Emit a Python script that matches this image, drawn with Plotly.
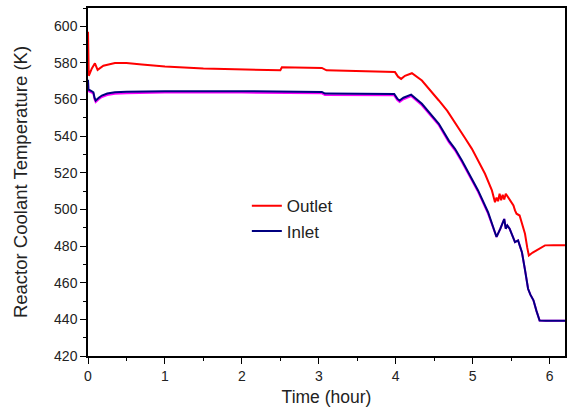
import plotly.graph_objects as go

# ---- data ----
outlet_t = [0.0, 0.01, 0.05, 0.09, 0.125, 0.2, 0.35, 0.5, 0.7, 1.0, 1.5, 2.0, 2.5, 2.52,
            3.04, 3.1, 3.5, 3.99, 4.03, 4.07, 4.12, 4.21, 4.34, 4.45, 4.56, 4.67, 4.77,
            4.9, 4.99, 5.07, 5.16, 5.25, 5.29, 5.31, 5.33, 5.35, 5.37, 5.39, 5.41, 5.43,
            5.46, 5.48, 5.53, 5.55, 5.57, 5.61, 5.64, 5.68, 5.71, 5.73, 5.78, 5.85, 5.94,
            6.05, 6.2]
outlet_v = [597.0, 573.0, 577.0, 579.8, 576.2, 578.5, 580.0, 580.0, 579.1, 578.0, 577.0,
            576.5, 576.0, 577.6, 577.3, 576.0, 575.6, 575.0, 572.5, 571.3, 573.0, 574.4,
            570.4, 565.2, 559.5, 553.8, 547.6, 539.0, 533.1, 526.7, 519.5, 510.4, 504.0,
            506.5, 504.5, 508.6, 505.0, 508.0, 505.5, 508.6, 506.5, 505.0, 502.2, 499.5,
            497.7, 496.7, 492.0, 486.7, 479.0, 474.9, 476.5, 478.4, 480.4, 480.5, 480.4]

inlet_t = [0.0, 0.005, 0.04, 0.07, 0.085, 0.1, 0.14, 0.18, 0.25, 0.35, 0.5, 0.7, 1.0, 2.0,
           3.0, 3.04, 3.08, 3.5, 3.98, 4.02, 4.05, 4.1, 4.2, 4.34, 4.45, 4.56, 4.69, 4.77,
           4.86, 4.99, 5.07, 5.2, 5.25, 5.31, 5.36, 5.41, 5.43, 5.45, 5.48, 5.52, 5.55,
           5.59, 5.64, 5.68, 5.72, 5.75, 5.79, 5.83, 5.87, 5.95, 6.05, 6.2]
inlet_v = [570.8, 565.5, 564.8, 564.0, 561.0, 559.5, 561.0, 562.2, 563.3, 564.0, 564.3,
           564.5, 564.6, 564.6, 564.4, 564.2, 563.3, 563.2, 563.1, 560.5, 559.5, 561.0,
           562.7, 557.7, 552.5, 546.8, 537.6, 533.1, 526.7, 516.7, 510.4, 498.5, 492.2,
           485.0, 489.5, 494.8, 489.5, 491.3, 489.5, 485.0, 482.2, 483.1, 476.7, 467.0,
           456.7, 453.5, 450.4, 444.5, 439.4, 439.2, 439.4, 439.3]

# second (magenta) inlet trace, just under the navy one
inlet2_v = [570.0, 564.7, 564.0, 563.2, 560.2, 558.7, 560.2, 561.4, 562.5, 563.2, 563.5,
            563.7, 563.8, 563.8, 563.6, 563.4, 562.5, 562.4, 562.3, 559.7, 558.7, 560.2,
            561.9, 556.9, 551.7, 546.0, 536.8, 532.3, 525.9, 515.9, 509.6, 497.7, 491.4,
            485.0, 489.5, 494.8, 489.5, 491.3, 489.5, 485.0, 482.2, 483.1, 476.7, 467.0,
            456.7, 453.5, 450.4, 444.5, 439.4, 439.2, 439.4, 439.3]

x_title = "Time (hour)"
y_title = "Reactor Coolant Temperature (K)"

FONT = "Liberation Sans, Arial, sans-serif"

fig = go.Figure()
fig.add_trace(go.Scatter(x=inlet_t, y=inlet2_v, mode="lines", showlegend=False,
                         line=dict(color="#FF00FF", width=2)))
fig.add_trace(go.Scatter(x=inlet_t, y=inlet_v, mode="lines", name="Inlet",
                         line=dict(color="#000080", width=2), legendrank=2))
fig.add_trace(go.Scatter(x=outlet_t, y=outlet_v, mode="lines", name="Outlet",
                         line=dict(color="#FF0000", width=2), legendrank=1))

axis_common = dict(showline=True, linecolor="black", linewidth=1.5, mirror=True,
                   ticks="outside", ticklen=6, tickwidth=1.2, tickcolor="black",
                   showgrid=False, zeroline=False, automargin=False,
                   tickfont=dict(family=FONT, size=14, color="#222"))

fig.update_xaxes(range=[0, 6.2], dtick=1, tick0=0,
                 minor=dict(dtick=0.5, ticks="outside", ticklen=3, tickcolor="black", tickwidth=1.2),
                 title=dict(text=x_title, standoff=8,
                            font=dict(family=FONT, size=17.5, color="#222")),
                 **axis_common)
fig.update_yaxes(range=[420, 610], dtick=20, tick0=420,
                 minor=dict(dtick=10, ticks="outside", ticklen=3, tickcolor="black", tickwidth=1.2),
                 title=dict(text=y_title, standoff=22,
                            font=dict(family=FONT, size=18.5, color="#222")),
                 **axis_common)

fig.update_layout(
    width=568, height=412,
    margin=dict(l=88, r=3, t=8, b=56),
    paper_bgcolor="white", plot_bgcolor="white",
    font=dict(family=FONT, color="#222"),
    legend=dict(x=0.333, y=0.482, xanchor="left", yanchor="top",
                bgcolor="rgba(0,0,0,0)", font=dict(family=FONT, size=17),
                tracegroupgap=0),
)

fig.write_html("out.html", config={"displayModeBar": False},
               post_script="document.body.style.margin='0';document.body.style.padding='0';")
